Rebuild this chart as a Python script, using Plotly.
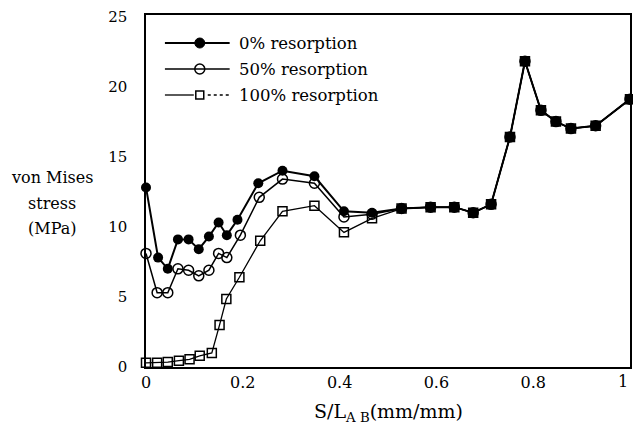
import plotly.graph_objects as go

# ---- data ----
x_0 = [0, 0.025, 0.045, 0.066, 0.088, 0.109, 0.13, 0.15, 0.167, 0.189, 0.232,
       0.282, 0.348, 0.409, 0.467]
y_0 = [12.8, 7.8, 7.0, 9.1, 9.1, 8.4, 9.3, 10.3, 9.4, 10.5, 13.1,
       14.0, 13.6, 11.1, 11.0]

x_50 = [0, 0.023, 0.045, 0.066, 0.088, 0.109, 0.13, 0.15, 0.167, 0.195, 0.234,
        0.282, 0.348, 0.409, 0.467]
y_50 = [8.1, 5.3, 5.3, 7.0, 6.9, 6.5, 6.9, 8.1, 7.8, 9.4, 12.1,
        13.4, 13.1, 10.7, 10.9]

x_100 = [0, 0.023, 0.045, 0.068, 0.09, 0.111, 0.136, 0.152, 0.166, 0.193, 0.236,
         0.282, 0.348, 0.409, 0.467]
y_100 = [0.3, 0.3, 0.35, 0.45, 0.55, 0.8, 1.0, 3.0, 4.85, 6.4, 9.0,
         11.1, 11.5, 9.6, 10.6]

# shared tail (all three curves coincide)
x_tail = [0.528, 0.588, 0.637, 0.676, 0.713, 0.752, 0.783, 0.816, 0.847, 0.878, 0.929, 1.0]
y_tail = [11.3, 11.4, 11.4, 11.0, 11.6, 16.4, 21.8, 18.3, 17.5, 17.0, 17.2, 19.1]

series_names = ["0% resorption", "50% resorption", "100% resorption"]
x_ticks = [0, 0.2, 0.4, 0.6, 0.8]
x_tick_labels = ["0", "0.2", "0.4", "0.6", "0.8"]
x_last_tick = 1.0
x_last_label = "1"
y_ticks = [0, 5, 10, 15, 20, 25]

FONT = "DejaVu Serif"
W, H = 633, 425
ML, MR, MT, MB = 146, 1, 15, 58
PW, PH = W - ML - MR, H - MT - MB


def px2paper(px, py):
    return (px - ML) / PW, (H - MB - py) / PH


fig = go.Figure()
fig.add_trace(go.Scatter(
    x=x_0 + x_tail, y=y_0 + y_tail, name=series_names[0], mode="lines+markers",
    line=dict(color="black", width=2),
    marker=dict(symbol="circle", size=10, color="black"), cliponaxis=False))
fig.add_trace(go.Scatter(
    x=x_50 + x_tail, y=y_50 + y_tail, name=series_names[1], mode="lines+markers",
    line=dict(color="black", width=1.5),
    marker=dict(symbol="circle-open", size=10, color="black", line=dict(width=1.5)),
    cliponaxis=False))
fig.add_trace(go.Scatter(
    x=x_100 + x_tail, y=y_100 + y_tail, name=series_names[2], mode="lines+markers",
    line=dict(color="black", width=1.3),
    marker=dict(symbol="square-open", size=9, color="black", line=dict(width=1.5)),
    cliponaxis=False))

# ---- manual legend (decoration in paper coordinates) ----
shapes = []
annotations = []
rows_py = [43, 69, 95]
for i, py in enumerate(rows_py):
    x1, y1 = px2paper(165, py)
    x2, _ = px2paper(230, py)
    if i < 2:
        shapes.append(dict(type="line", xref="paper", yref="paper", x0=x1, x1=x2, y0=y1, y1=y1,
                           line=dict(color="black", width=2 if i == 0 else 1.5)))
    else:
        xa, _ = px2paper(194, py)
        xb, _ = px2paper(208, py)
        shapes.append(dict(type="line", xref="paper", yref="paper", x0=x1, x1=xa, y0=y1, y1=y1,
                           line=dict(color="black", width=1.3)))
        shapes.append(dict(type="line", xref="paper", yref="paper", x0=xb, x1=x2, y0=y1, y1=y1,
                           line=dict(color="black", width=1.3, dash="3px,3px")))
    r = 5
    ax0, ay0 = px2paper(200 - r, py + r)
    ax1, ay1 = px2paper(200 + r, py - r)
    if i == 0:
        shapes.append(dict(type="circle", xref="paper", yref="paper", x0=ax0, x1=ax1, y0=ay0, y1=ay1,
                           fillcolor="black", line=dict(color="black", width=1)))
    elif i == 1:
        shapes.append(dict(type="circle", xref="paper", yref="paper", x0=ax0, x1=ax1, y0=ay0, y1=ay1,
                           fillcolor="white", line=dict(color="black", width=1.5)))
        shapes.append(dict(type="line", xref="paper", yref="paper", x0=ax0, x1=ax1, y0=y1, y1=y1,
                           line=dict(color="black", width=1.5)))
    else:
        s = 4
        bx0, by0 = px2paper(200 - s, py + s)
        bx1, by1 = px2paper(200 + s, py - s)
        shapes.append(dict(type="rect", xref="paper", yref="paper", x0=bx0, x1=bx1, y0=by0, y1=by1,
                           fillcolor="white", line=dict(color="black", width=1.5)))
    tx, ty = px2paper(237, py)
    annotations.append(dict(text=series_names[i], xref="paper", yref="paper", x=tx, y=ty,
                            xanchor="left", yanchor="middle", showarrow=False,
                            font=dict(family=FONT, size=16.5, color="black")))

# y-axis title (three lines)
for txt, py in zip(["von Mises", "stress", "(MPa)"], [178, 203, 228]):
    tx, ty = px2paper(52, py)
    annotations.append(dict(text=txt, xref="paper", yref="paper", x=tx, y=ty,
                            xanchor="center", yanchor="middle", showarrow=False,
                            font=dict(family=FONT, size=16, color="black")))

# x-axis title
tx, ty = px2paper(390, 412)
annotations.append(dict(text="S/L<sub>A B</sub>(mm/mm)", xref="paper", yref="paper", x=tx, y=ty,
                        xanchor="center", yanchor="middle", showarrow=False,
                        font=dict(family=FONT, size=19, color="black")))

# last x tick label at the right edge (kept fully visible)
_, ly = px2paper(0, 381)
annotations.append(dict(text=x_last_label, xref="x", yref="paper", x=x_last_tick, y=ly,
                        xanchor="right", yanchor="middle", showarrow=False,
                        font=dict(family=FONT, size=16, color="black")))

fig.update_layout(
    width=W, height=H,
    margin=dict(l=ML, r=MR, t=MT, b=MB, pad=0),
    paper_bgcolor="white", plot_bgcolor="white",
    showlegend=False,
    shapes=shapes, annotations=annotations,
    font=dict(family=FONT, color="black"),
)
fig.update_xaxes(range=[0, 1], tickvals=x_ticks, ticktext=x_tick_labels,
                 showgrid=False, zeroline=False, showline=True, linecolor="black",
                 linewidth=1.5, mirror=True, ticks="", tickfont=dict(family=FONT, size=16))
fig.update_yaxes(range=[0, 25.1], tickvals=y_ticks,
                 showgrid=False, zeroline=False, showline=True, linecolor="black",
                 linewidth=1.5, mirror=True, ticks="", ticklabelstandoff=14,
                 tickfont=dict(family=FONT, size=15))

fig.write_html("out.html")
